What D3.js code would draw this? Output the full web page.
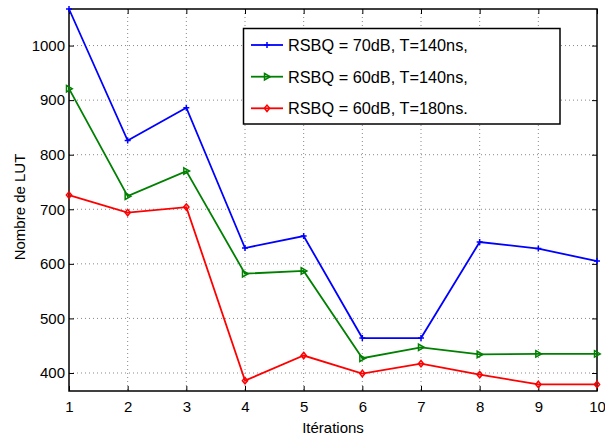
<!DOCTYPE html>
<html><head><meta charset="utf-8">
<script src="https://cdn.jsdelivr.net/npm/d3@7"></script>
<style>body{margin:0;background:#fff}svg{display:block}text{font-family:"Liberation Sans",Arial,sans-serif}</style>
</head><body><svg id="c" width="605" height="436"></svg>
<script>
const iterations = [1,2,3,4,5,6,7,8,9,10];
const seriesNames = ["RSBQ = 70dB, T=140ns,", "RSBQ = 60dB, T=140ns,", "RSBQ = 60dB, T=180ns."];
const blue  = [1067, 826, 886, 629, 651, 464, 464, 640, 628, 605];
const green = [921, 724, 770, 582, 587, 427, 447, 434, 435, 435];
const red   = [726, 694, 704, 386, 432, 399, 417, 397, 379, 379];
const yTicks = [400, 500, 600, 700, 800, 900, 1000];
const xTicks = [1,2,3,4,5,6,7,8,9,10];

const svg = d3.select("#c");
const L = 69, R = 597, T = 9, B = 391;
const x = d3.scaleLinear().domain([1,10]).range([L,R]);
const y = d3.scaleLinear().domain([367,1067]).range([B,T]);

// grid
const g = svg.append("g");
g.selectAll(".gx").data(xTicks.slice(1,-1)).enter().append("line")
  .attr("x1",d=>x(d)).attr("x2",d=>x(d)).attr("y1",T).attr("y2",B)
  .attr("stroke","#888").attr("stroke-width",1).attr("stroke-dasharray","1,3");
g.selectAll(".gy").data(yTicks).enter().append("line")
  .attr("y1",d=>y(d)).attr("y2",d=>y(d)).attr("x1",L).attr("x2",R)
  .attr("stroke","#888").attr("stroke-width",1).attr("stroke-dasharray","1,3");

// axes
const ax = svg.append("g").attr("transform",`translate(0,${B})`)
  .call(d3.axisBottom(x).tickValues(xTicks).tickSizeInner(-5).tickSizeOuter(0).tickPadding(10).tickFormat(d3.format("d")));
const axT = svg.append("g").attr("transform",`translate(0,${T})`)
  .call(d3.axisTop(x).tickValues(xTicks).tickSizeInner(-5).tickSizeOuter(0).tickFormat(""));
const ay = svg.append("g").attr("transform",`translate(${L},0)`)
  .call(d3.axisLeft(y).tickValues(yTicks).tickSizeInner(-5).tickSizeOuter(0).tickPadding(4).tickFormat(d3.format("d")));
const ayR = svg.append("g").attr("transform",`translate(${R},0)`)
  .call(d3.axisRight(y).tickValues(yTicks).tickSizeInner(-5).tickSizeOuter(0).tickFormat(""));
[ax,axT,ay,ayR].forEach(a=>{
  a.selectAll(".domain").remove();
  a.selectAll(".tick line").attr("stroke","#000").attr("stroke-width",1);
  a.selectAll("text").attr("font-size",15).attr("fill","#000").attr("font-family","Liberation Sans, Arial, sans-serif");
});
svg.append("rect").attr("x",L).attr("y",T).attr("width",R-L).attr("height",B-T)
  .attr("fill","none").attr("stroke","#000").attr("stroke-width",1.5);

// labels
svg.append("text").attr("x",(L+R)/2).attr("y",433).attr("text-anchor","middle").attr("font-size",15).text("Itérations");
svg.append("text").attr("transform","translate(25,207) rotate(-90)").attr("text-anchor","middle").attr("font-size",15).text("Nombre de LUT");

// series
const series = [
  {v: blue, c: "#0000ff", m: "plus"},
  {v: green, c: "#008000", m: "tri"},
  {v: red, c: "#ff0000", m: "diamond"}
];
function marker(sel, type, c){
  if(type==="plus"){
    sel.append("path").attr("d","M-3,0H3M0,-3V3").attr("stroke",c).attr("stroke-width",1.5).attr("fill","none");
  } else if(type==="tri"){
    sel.append("path").attr("d","M-2.5,-3.2L3.2,0L-2.5,3.2Z").attr("stroke",c).attr("stroke-width",1.5).attr("fill","none");
  } else {
    sel.append("path").attr("d","M0,-3.2L2.6,0L0,3.2L-2.6,0Z").attr("stroke",c).attr("stroke-width",1.5).attr("fill","none");
  }
}
const line = d3.line().x((d,i)=>x(iterations[i])).y(d=>y(d));
series.forEach(s=>{
  svg.append("path").datum(s.v).attr("d",line).attr("fill","none").attr("stroke",s.c).attr("stroke-width",1.8);
  s.v.forEach((d,i)=>{
    const gg = svg.append("g").attr("transform",`translate(${x(iterations[i])},${y(d)})`);
    marker(gg, s.m, s.c);
  });
});

// legend
const lg = svg.append("g");
lg.append("rect").attr("x",243.5).attr("y",28.5).attr("width",316.5).attr("height",95.5)
  .attr("fill","#fff").attr("stroke","#000").attr("stroke-width",1.5);
const ly = [45, 76.7, 108.3];
series.forEach((s,i)=>{
  lg.append("line").attr("x1",251).attr("x2",283).attr("y1",ly[i]).attr("y2",ly[i]).attr("stroke",s.c).attr("stroke-width",1.8);
  const mg = lg.append("g").attr("transform",`translate(267,${ly[i]})`);
  marker(mg, s.m, s.c);
  lg.append("text").attr("x",288).attr("y",ly[i]+5.8).attr("font-size",16.3).text(seriesNames[i]);
});
</script></body></html>
